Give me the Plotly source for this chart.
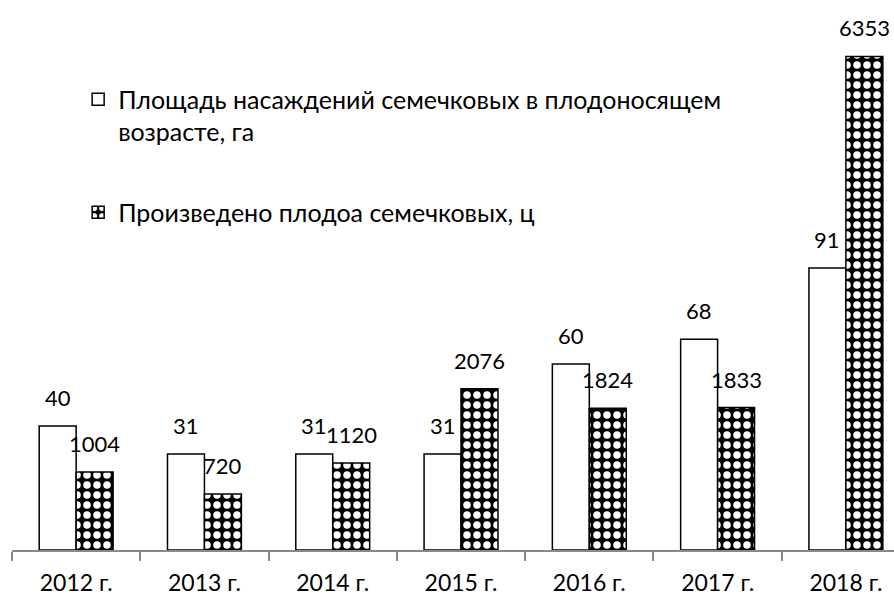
import plotly.graph_objects as go

categories = ["2012 г.", "2013 г.", "2014 г.", "2015 г.", "2016 г.", "2017 г.", "2018 г."]
area_ha = [40, 31, 31, 31, 60, 68, 91]
production_c = [1004, 720, 1120, 2076, 1824, 1833, 6353]
name_area = "Площадь насаждений семечковых в плодоносящем<br>возрасте, га"
name_prod = "Произведено плодоа семечковых, ц"

FONT = "Lato, 'Noto Sans', sans-serif"
LBL = 22
TICK = 23
BW = 0.288

fig = go.Figure()
fig.add_trace(go.Bar(
    x=categories, y=area_ha, name=name_area, yaxis="y",
    width=BW, offset=-BW, legendgroup="a",
    marker=dict(color="white", line=dict(color="black", width=1.5)),
))
fig.add_trace(go.Bar(
    x=categories, y=production_c, name=name_prod, yaxis="y2",
    width=BW, offset=0, legendgroup="b",
    marker=dict(color="black", line=dict(color="black", width=1.5),
                pattern=dict(shape=".", bgcolor="black", fgcolor="white",
                             size=10, solidity=0.45, fillmode="replace")),
))

annotations = []
for c, v in zip(categories, area_ha):
    annotations.append(dict(x=c, y=v, xref="x", yref="y", text=str(v),
                            showarrow=False, yanchor="bottom", xshift=-18.5, yshift=13,
                            font=dict(family=FONT, size=LBL, color="black")))
for c, v in zip(categories, production_c):
    annotations.append(dict(x=c, y=v, xref="x", yref="y2", text=str(v),
                            showarrow=False, yanchor="bottom", xshift=18.5, yshift=13,
                            font=dict(family=FONT, size=LBL, color="black")))

fig.update_layout(
    width=894, height=597,
    margin=dict(l=12, r=0, t=10, b=47),
    paper_bgcolor="white", plot_bgcolor="white",
    font=dict(family=FONT, size=TICK, color="black"),
    barmode="overlay",
    showlegend=True,
    legend=dict(x=0.075, y=0.877, xanchor="left", yanchor="top",
                traceorder="grouped", tracegroupgap=45, valign="top",
                bgcolor="rgba(0,0,0,0)", font=dict(family=FONT, size=25, color="black")),
    xaxis=dict(type="category", range=[-0.5, 6.375], showgrid=False, automargin=False,
               showline=True, linecolor="#898989", linewidth=1.5,
               ticks="outside", tickson="boundaries", ticklen=9, tickwidth=1.5,
               tickcolor="#898989", ticklabelstandoff=12,
               tickfont=dict(family=FONT, size=TICK, color="black")),
    yaxis=dict(range=[0, 174.2], visible=False, showgrid=False, automargin=False),
    yaxis2=dict(range=[0, 6950], visible=False, showgrid=False, automargin=False,
                overlaying="y", side="right"),
    annotations=annotations,
)

fig.write_html("out.html", config={"displayModeBar": False},
               post_script="document.body.style.margin='0';document.body.style.overflow='hidden';")
